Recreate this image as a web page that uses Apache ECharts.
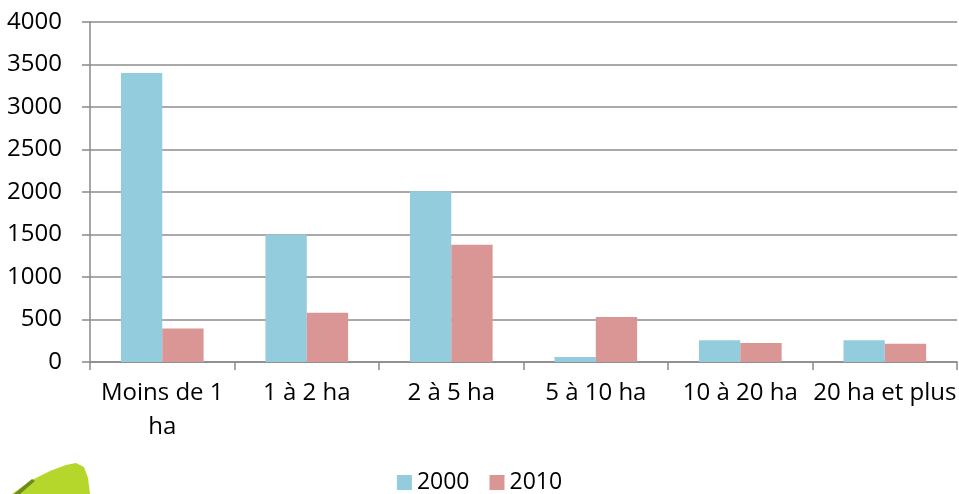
<!DOCTYPE html>
<html><head><meta charset="utf-8">
<script src="https://cdn.jsdelivr.net/npm/echarts@6/dist/echarts.min.js"></script>
<style>html,body{margin:0;padding:0;background:#fff}#c{width:959px;height:494px}</style>
</head><body><div id="c"></div>
<script>
const categories = ["Moins de 1\nha", "1 à 2 ha", "2 à 5 ha", "5 à 10 ha", "10 à 20 ha", "20 ha et plus"];
const values2000 = [3400, 1500, 2010, 60, 255, 255];
const values2010 = [395, 580, 1380, 530, 225, 215];
const seriesNames = ["2000", "2010"];
const yTicks = [0, 500, 1000, 1500, 2000, 2500, 3000, 3500, 4000];

const chart = echarts.init(document.getElementById('c'));
const font = '"Open Sans", "Noto Sans", sans-serif';
chart.setOption({
  animation: false,
  grid: { left: 90, top: 22, width: 872, height: 340, containLabel: false },
  legend: {
    data: seriesNames, left: 'center', bottom: 0, itemWidth: 15, itemHeight: 15, itemGap: 20,
    icon: 'rect', padding: 0,
    textStyle: { fontFamily: font, fontSize: 23, color: '#000', lineHeight: 20 }
  },
  xAxis: {
    type: 'category', data: categories, boundaryGap: true,
    axisLine: { lineStyle: { color: '#898989', width: 1.5 } },
    axisTick: { show: true, length: 8, inside: false, lineStyle: { color: '#898989', width: 1.5 } },
    axisLabel: { interval: 0, margin: 14, fontFamily: font, fontSize: 24, color: '#000', lineHeight: 34 }
  },
  yAxis: {
    type: 'value', min: yTicks[0], max: yTicks[yTicks.length - 1], interval: 500,
    axisLine: { show: true, lineStyle: { color: '#898989', width: 1.5 } },
    axisTick: { show: true, length: 8, lineStyle: { color: '#898989', width: 1.5 } },
    splitLine: { lineStyle: { color: '#8c8c8c', width: 1.5 } },
    axisLabel: { margin: 28, fontFamily: font, fontSize: 24, color: '#000', formatter: v => String(v) }
  },
  series: [
    { name: seriesNames[0], type: 'bar', data: values2000, barWidth: '28.6%', barGap: '0%', itemStyle: { color: '#93CDDD' } },
    { name: seriesNames[1], type: 'bar', data: values2010, barWidth: '28.6%', barGap: '0%', itemStyle: { color: '#D99694' } }
  ],
  graphic: [{
    type: 'polygon', z: 10,
    shape: { points: [[12, 494], [30, 481], [50, 471], [66, 465], [76, 463], [84, 467], [88, 478], [90, 494]] },
    style: { fill: '#b5d62a' }
  }, {
    type: 'polygon', z: 11,
    shape: { points: [[14, 494], [32, 479], [35, 481], [20, 494]] },
    style: { fill: '#6d8a1c' }
  }]
});
</script></body></html>
